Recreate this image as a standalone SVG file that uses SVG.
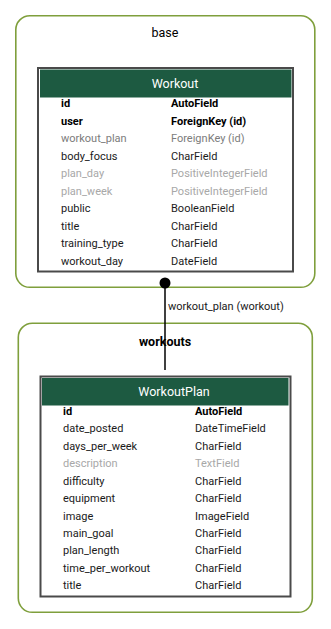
<svg xmlns="http://www.w3.org/2000/svg" width="331" height="629" viewBox="0 0 331 629">
  <style>
    text { font-family: Roboto, "Liberation Sans", sans-serif; }
    .cluster { fill: #ffffff; stroke: #7f9f3c; stroke-width: 1.6; }
    .ctitle { font-size: 12.5px; fill: #000; text-anchor: middle; }
    .tbl { fill: #ffffff; stroke: #4a4a4a; stroke-width: 2; }
    .head { fill: #1d5a41; }
    .htitle { font-size: 12.5px; fill: #ffffff; text-anchor: middle; }
    .f { font-size: 11px; fill: #1a1a1a; }
    .b { font-weight: bold; fill: #000; }
    .g { fill: #7c7c7c; }
    .lg { fill: #a8a8a8; }
    .edge { stroke: #000; stroke-width: 1.5; fill: none; }
    .elabel { font-size: 11px; fill: #1a1a1a; }
  </style>

  <rect width="331" height="629" fill="#ffffff"/>

  <!-- app clusters -->
  <g id="cluster_base">
    <rect class="cluster" x="15.8" y="15.8" width="299" height="271.5" rx="14" ry="14"/>
    <text class="ctitle" x="165" y="37">base</text>
  </g>
  <g id="cluster_workouts">
    <rect class="cluster" x="18.3" y="323.3" width="294" height="289" rx="14" ry="14"/>
    <text class="ctitle" x="165" y="345.5" font-weight="bold">workouts</text>
  </g>

  <!-- model: Workout -->
  <g id="node_Workout">
    <rect class="tbl" x="38" y="68" width="255" height="203.5"/>
    <rect class="head" x="40" y="69.5" width="251.5" height="28"/>
    <text class="htitle" x="175" y="88">Workout</text>
    <text class="f b" x="61" y="107">id</text>
    <text class="f b" x="171" y="107">AutoField</text>
    <text class="f b" x="61" y="124.5">user</text>
    <text class="f b" x="171" y="124.5">ForeignKey (id)</text>
    <text class="f g" x="61" y="142">workout_plan</text>
    <text class="f g" x="171" y="142">ForeignKey (id)</text>
    <text class="f" x="61" y="159.5">body_focus</text>
    <text class="f" x="171" y="159.5">CharField</text>
    <text class="f lg" x="61" y="177">plan_day</text>
    <text class="f lg" x="171" y="177">PositiveIntegerField</text>
    <text class="f lg" x="61" y="194.5">plan_week</text>
    <text class="f lg" x="171" y="194.5">PositiveIntegerField</text>
    <text class="f" x="61" y="212">public</text>
    <text class="f" x="171" y="212">BooleanField</text>
    <text class="f" x="61" y="229.5">title</text>
    <text class="f" x="171" y="229.5">CharField</text>
    <text class="f" x="61" y="247">training_type</text>
    <text class="f" x="171" y="247">CharField</text>
    <text class="f" x="61" y="264.5">workout_day</text>
    <text class="f" x="171" y="264.5">DateField</text>
  </g>

  <!-- model: WorkoutPlan -->
  <g id="node_WorkoutPlan">
    <rect class="tbl" x="40.5" y="376.5" width="250" height="220"/>
    <rect class="head" x="42" y="378" width="246.5" height="27.5"/>
    <text class="htitle" x="174" y="396">WorkoutPlan</text>
    <text class="f b" x="63" y="414.5">id</text>
    <text class="f b" x="195" y="414.5">AutoField</text>
    <text class="f" x="63" y="432">date_posted</text>
    <text class="f" x="195" y="432">DateTimeField</text>
    <text class="f" x="63" y="449.5">days_per_week</text>
    <text class="f" x="195" y="449.5">CharField</text>
    <text class="f lg" x="63" y="467">description</text>
    <text class="f lg" x="195" y="467">TextField</text>
    <text class="f" x="63" y="484.5">difficulty</text>
    <text class="f" x="195" y="484.5">CharField</text>
    <text class="f" x="63" y="502">equipment</text>
    <text class="f" x="195" y="502">CharField</text>
    <text class="f" x="63" y="519.5">image</text>
    <text class="f" x="195" y="519.5">ImageField</text>
    <text class="f" x="63" y="537">main_goal</text>
    <text class="f" x="195" y="537">CharField</text>
    <text class="f" x="63" y="554">plan_length</text>
    <text class="f" x="195" y="554">CharField</text>
    <text class="f" x="63" y="571.5">time_per_workout</text>
    <text class="f" x="195" y="571.5">CharField</text>
    <text class="f" x="63" y="589">title</text>
    <text class="f" x="195" y="589">CharField</text>
  </g>

  <!-- relations -->
  <g id="edges">
    <g id="edge_Workout_WorkoutPlan">
      <line class="edge" x1="165" y1="283" x2="165" y2="370"/>
      <circle cx="165" cy="283" r="5.5" fill="#000"/>
      <text class="elabel" x="168" y="309.5">workout_plan (workout)</text>
    </g>
  </g>
</svg>
